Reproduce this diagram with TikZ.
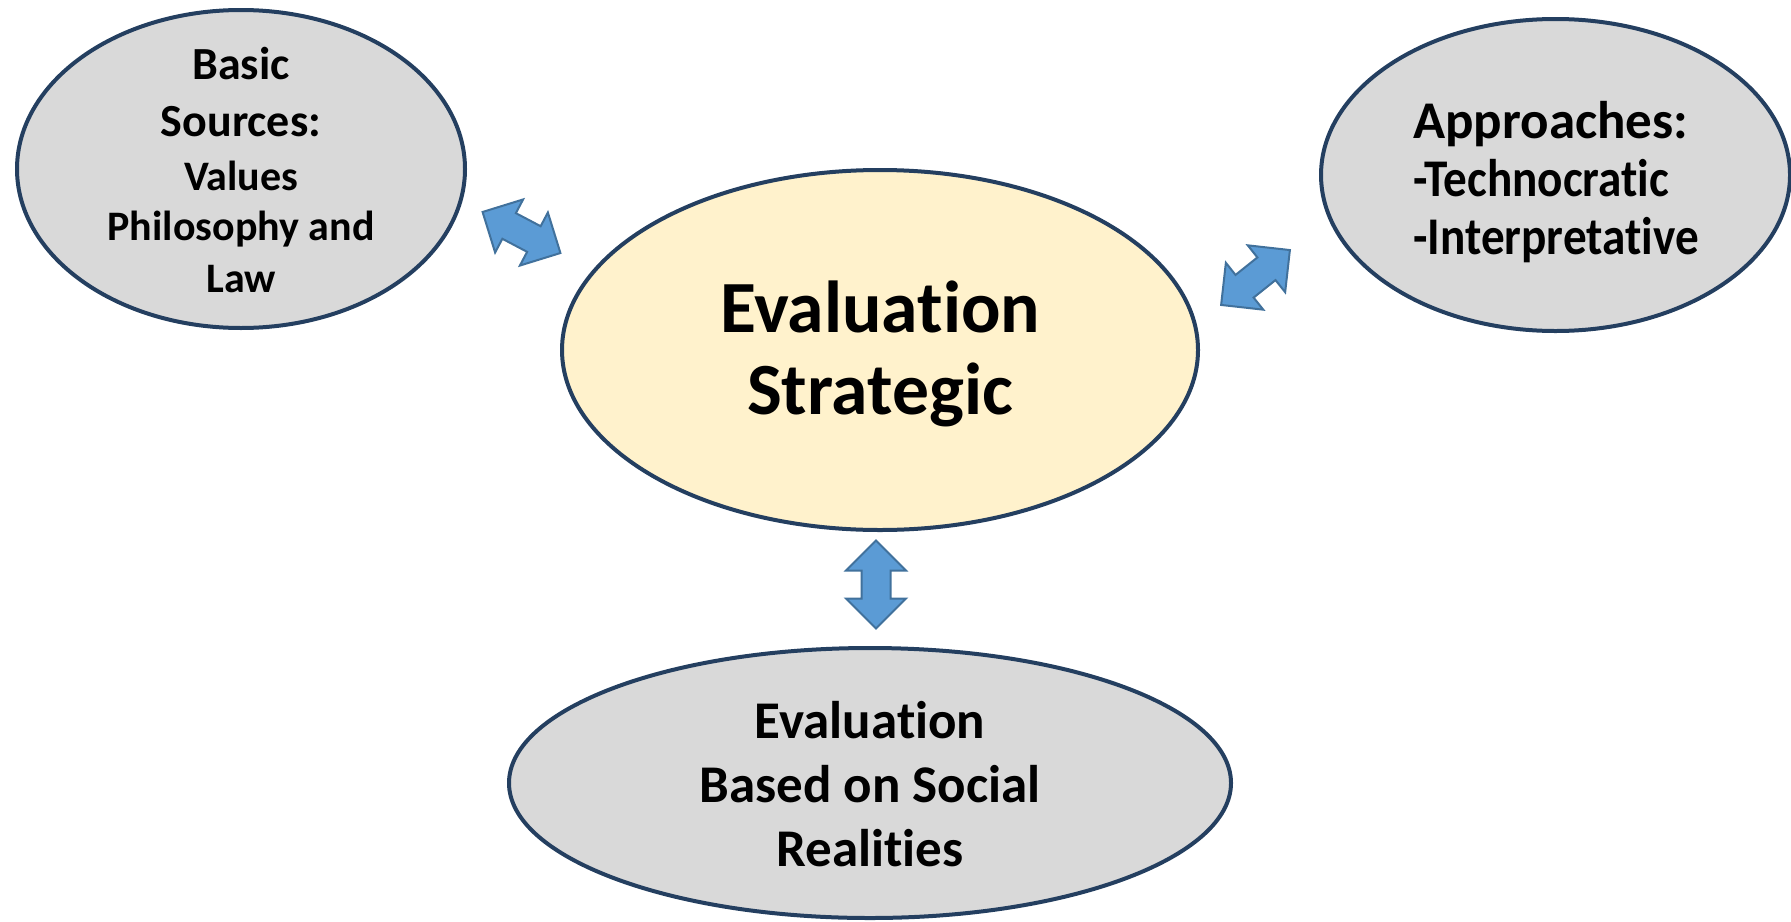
\documentclass[tikz,border=0pt]{standalone}
\usepackage{fontspec}
\setmainfont{Carlito}[Ligatures=NoCommon]
\usetikzlibrary{shapes.geometric}
\definecolor{navy}{HTML}{243F60}
\definecolor{grayfill}{HTML}{D9D9D9}
\definecolor{yellowfill}{HTML}{FFF2CC}
\definecolor{arrowfill}{HTML}{5B9BD5}
\definecolor{arrowline}{HTML}{41719C}
\tikzset{
  oval/.style={ellipse, draw=navy, line width=2pt, inner sep=0pt, outer sep=0pt},
  grayoval/.style={oval, fill=grayfill},
  yellowoval/.style={oval, fill=yellowfill},
  label text/.style={inner sep=0pt, outer sep=0pt, font=\bfseries},
  arrowsty/.style={fill=arrowfill, draw=arrowline, line width=1pt, line join=miter},
  dblarrow/.pic={\draw[arrowsty] (-44,0) -- (-14,30) -- (-14,14.5) -- (14,14.5) -- (14,30) -- (44,0) -- (14,-30) -- (14,-14.5) -- (-14,-14.5) -- (-14,-30) -- cycle;}
}
\newcommand{\narrowline}[1]{{\addfontfeatures{FakeStretch=0.89}#1}}
\newcommand{\nl}{\kern0pt }
\begin{document}
\begin{tikzpicture}[x=0.5pt, y=-0.5pt]
\useasboundingbox (0,0) rectangle (1791,921);
% ellipses
\node[grayoval, minimum width=224pt, minimum height=159pt] (src) at (241,169) {};
\node[yellowoval, minimum width=318pt, minimum height=180pt] (ctr) at (880,350) {};
\node[grayoval, minimum width=234.5pt, minimum height=156pt] (app) at (1555.5,175) {};
\node[grayoval, minimum width=361pt, minimum height=135pt] (soc) at (870,783) {};
% texts
\node[label text, align=center, font=\bfseries\fontsize{21}{26}\selectfont] (srctext) at (241,170.5)
  {{\fontsize{23}{26}\selectfont Basic}\\[2.5pt]{\fontsize{23}{26}\selectfont Sources:}\\[1pt]Values\\[-1pt]Philosophy and\\Law};
\node[label text, align=center, font=\bfseries\fontsize{36.8}{41}\selectfont] (ctrtext) at (880,353.5)
  {Evaluat\nl ion\\Strategic};
\node[label text, align=left, font=\bfseries\fontsize{26.5}{29}\selectfont] (apptext) at (1556,182.5)
  {Approaches:\\\narrowline{-Technocrat\nl ic}\\\narrowline{-Interpretat\nl ive}};
\node[label text, align=center, font=\bfseries\fontsize{26.5}{32}\selectfont] (soctext) at (870,784)
  {Evaluat\nl ion\\Based on Social\\Realit\nl ies};
% block arrows
\pic[rotate=-27.8] at (521.5,232.5) {dblarrow};
\pic[rotate=38.6] at (1255.5,277.5) {dblarrow};
\pic[rotate=90] at (876,584.5) {dblarrow};
\end{tikzpicture}
\end{document}
